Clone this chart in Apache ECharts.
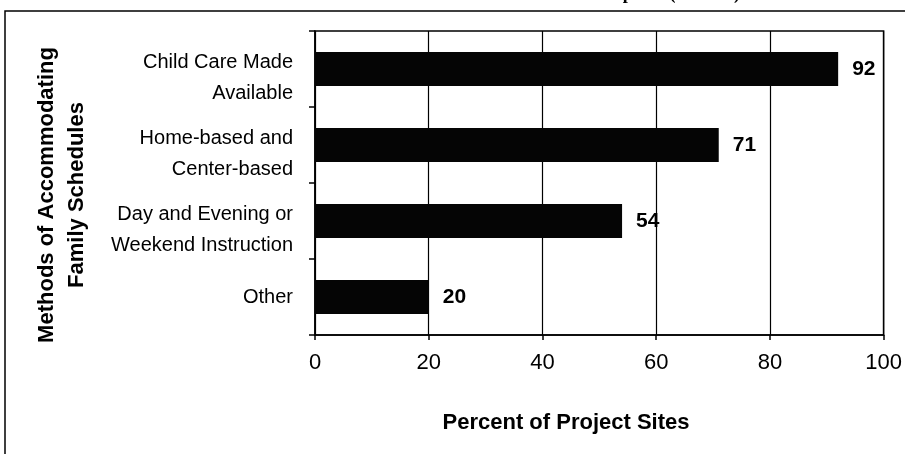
<!DOCTYPE html>
<html>
<head>
<meta charset="utf-8">
<style>
  html, body { margin: 0; padding: 0; background: #fff; }
  #chart { width: 905px; height: 454px; }
</style>
<script src="https://cdn.jsdelivr.net/npm/echarts@6/dist/echarts.min.js"></script>
</head>
<body>
<div id="chart"></div>
<script>
// Methods of accommodating family schedules, share of project sites
const categories = [
  'Child Care Made\nAvailable',
  'Home-based and\nCenter-based',
  'Day and Evening or\nWeekend Instruction',
  'Other'
];
const percentValues = [92, 71, 54, 20];
const xTicks = [0, 20, 40, 60, 80, 100];

const chart = echarts.init(document.getElementById('chart'), null, { renderer: 'canvas' });
const font = '"Liberation Sans", Arial, sans-serif';

// two-line labels sit a little below their bar's centre: a thin spacer line on top
function categoryLabel(v) {
  if (v.indexOf('\n') < 0) return '{b|' + v + '}';
  return '{s| }\n' + v.split('\n').map(s => '{b|' + s + '}').join('\n');
}

chart.setOption({
  animation: false,
  backgroundColor: '#ffffff',
  title: {
    text: 'Participants (Percent)',
    right: 160,
    top: -20,
    textStyle: { fontFamily: '"Liberation Serif", "DejaVu Serif", serif', fontWeight: 'bold', fontSize: 18, color: '#000' }
  },
  grid: {
    left: 315, right: 21, top: 31, bottom: 119,
    show: true, borderColor: '#000', borderWidth: 1.5, backgroundColor: 'transparent'
  },
  xAxis: {
    type: 'value',
    min: xTicks[0],
    max: xTicks[xTicks.length - 1],
    interval: 20,
    axisLine: { show: true, lineStyle: { color: '#000', width: 1.5 } },
    axisTick: { show: true, length: 5, lineStyle: { color: '#000', width: 1.5 } },
    splitLine: { show: true, lineStyle: { color: '#000', width: 1.2 } },
    axisLabel: { color: '#000', fontFamily: font, fontSize: 22, margin: 17 }
  },
  yAxis: {
    type: 'category',
    data: categories,
    inverse: true,
    axisLine: { show: true, lineStyle: { color: '#000', width: 1.5 } },
    axisTick: { show: true, length: 6, alignWithLabel: false, lineStyle: { color: '#000', width: 1.5 } },
    axisLabel: {
      margin: 22, align: 'right',
      formatter: categoryLabel,
      rich: {
        b: { color: '#000', fontFamily: font, fontSize: 20, lineHeight: 31, align: 'right' },
        s: { fontSize: 2, lineHeight: 18 }
      }
    },
    name: 'Methods of Accommodating\nFamily Schedules',
    nameLocation: 'middle',
    nameGap: 223,
    nameRotate: 90,
    nameTextStyle: {
      color: '#000', fontFamily: font, fontWeight: 'bold', fontSize: 22, lineHeight: 30, align: 'center',
      padding: [0, 24, 0, 0]
    }
  },
  series: [{
    type: 'bar',
    data: percentValues,
    barCategoryGap: '55%',
    itemStyle: { color: '#050505' },
    label: {
      show: true, position: 'right', distance: 14,
      color: '#000', fontFamily: font, fontWeight: 'bold', fontSize: 21
    }
  }],
  graphic: [
    {
      type: 'rect',
      shape: { x: 5, y: 11, width: 920, height: 470 },
      style: { fill: 'none', stroke: '#000', lineWidth: 1.5 },
      silent: true
    },
    {
      type: 'text',
      x: 566, y: 423,
      style: {
        text: 'Percent of Project Sites',
        fill: '#000', font: 'bold 22px "Liberation Sans", Arial, sans-serif',
        textAlign: 'center', textVerticalAlign: 'middle'
      }
    }
  ]
});
</script>
</body>
</html>
